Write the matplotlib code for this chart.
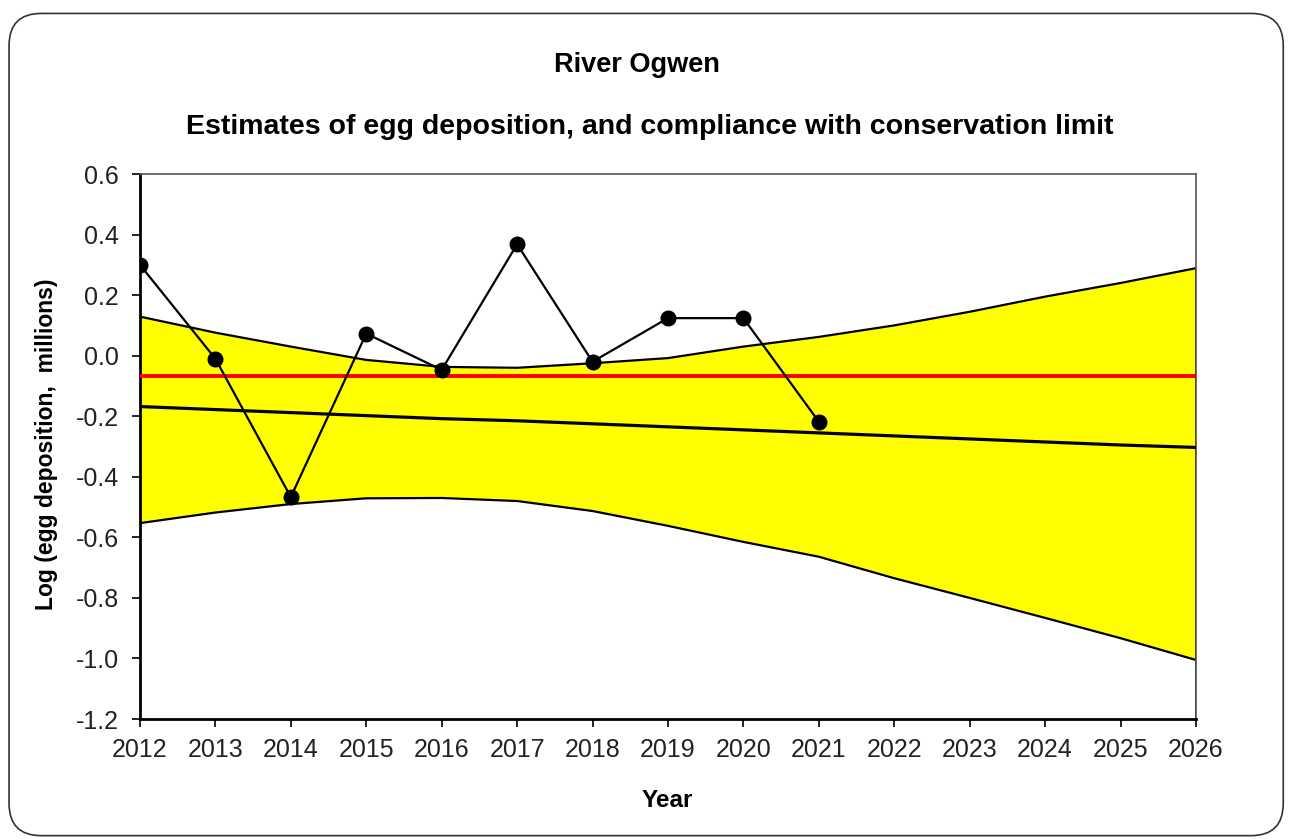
import numpy as np
import matplotlib.pyplot as plt
from matplotlib.patches import FancyBboxPatch

plt.rcParams['font.family'] = ['Liberation Sans', 'DejaVu Sans']

# observed egg deposition (log, millions)
obs_years = [2012, 2013, 2014, 2015, 2016, 2017, 2018, 2019, 2020, 2021]
obs_vals = [0.30, -0.01, -0.467, 0.073, -0.047, 0.368, -0.02, 0.124, 0.124, -0.218]

# trend and confidence band
years = list(range(2012, 2027))
trend = [-0.168, -0.178, -0.188, -0.198, -0.208, -0.215, -0.225, -0.235,
         -0.245, -0.255, -0.265, -0.275, -0.285, -0.295, -0.303]
upper = [0.129, 0.076, 0.03, -0.014, -0.037, -0.04, -0.025, -0.008,
         0.03, 0.062, 0.10, 0.145, 0.195, 0.24, 0.289]
lower = [-0.553, -0.518, -0.49, -0.471, -0.47, -0.48, -0.513, -0.562,
         -0.615, -0.664, -0.735, -0.80, -0.866, -0.933, -1.005]

cons_limit = -0.066

yticks = [-1.2, -1.0, -0.8, -0.6, -0.4, -0.2, 0.0, 0.2, 0.4, 0.6]
ytick_labels = ["-1.2", "-1.0", "-0.8", "-0.6", "-0.4", "-0.2", "0.0", "0.2", "0.4", "0.6"]

fig = plt.figure(figsize=(12.91, 8.39), dpi=100)
ax = fig.add_axes([0.1084, 0.143, 0.818, 0.6496])

# rounded border around the whole chart
border = FancyBboxPatch((0.007, 0.004), 0.987, 0.98, boxstyle="round,pad=0,rounding_size=0.025",
                        transform=fig.transFigure, fill=False, edgecolor="#333333", lw=1.2,
                        mutation_aspect=1291 / 839)
fig.patches.append(border)

ax.fill_between(years, lower, upper, color="#ffff00", lw=0, zorder=1)
ax.plot(years, upper, color="black", lw=1.6, zorder=2)
ax.plot(years, lower, color="black", lw=1.6, zorder=2)
ax.vlines(years[-1], -1.2, upper[-1], color="black", lw=2, zorder=2)
ax.plot(years, trend, color="black", lw=2.3, zorder=3)
ax.axhline(cons_limit, color="#ff0000", lw=2.8, zorder=4)
ax.plot(obs_years, obs_vals, color="black", lw=1.6, marker="o", markersize=10.5, zorder=5)

ax.set_xlim(2012, 2026)
ax.set_ylim(-1.2, 0.6)
ax.set_xticks(years)
ax.set_yticks(yticks)
ax.set_yticklabels(ytick_labels)
ax.tick_params(labelsize=18, length=6, width=1.2, color="black", labelcolor="#222222")
ax.tick_params(axis="y", pad=9)
ax.tick_params(axis="x", pad=8)

for side in ["left", "bottom"]:
    ax.spines[side].set_linewidth(2)
    ax.spines[side].set_color("black")
for side in ["top", "right"]:
    ax.spines[side].set_linewidth(1.2)
    ax.spines[side].set_color("#555555")

fig.text(0.036, 0.47, "Log (egg deposition,  millions)", rotation=90, ha="center", va="center",
         fontsize=16.5, fontweight="bold")
fig.text(0.517, 0.046, "Year", ha="center", va="center", fontsize=17.5, fontweight="bold")

fig.text(0.493, 0.922, "River Ogwen", ha="center", va="center", fontsize=19.5, fontweight="bold")
fig.text(0.503, 0.849, "Estimates of egg deposition, and compliance with conservation limit",
         ha="center", va="center", fontsize=20.5, fontweight="bold")

fig.savefig("out.png", dpi=100)
